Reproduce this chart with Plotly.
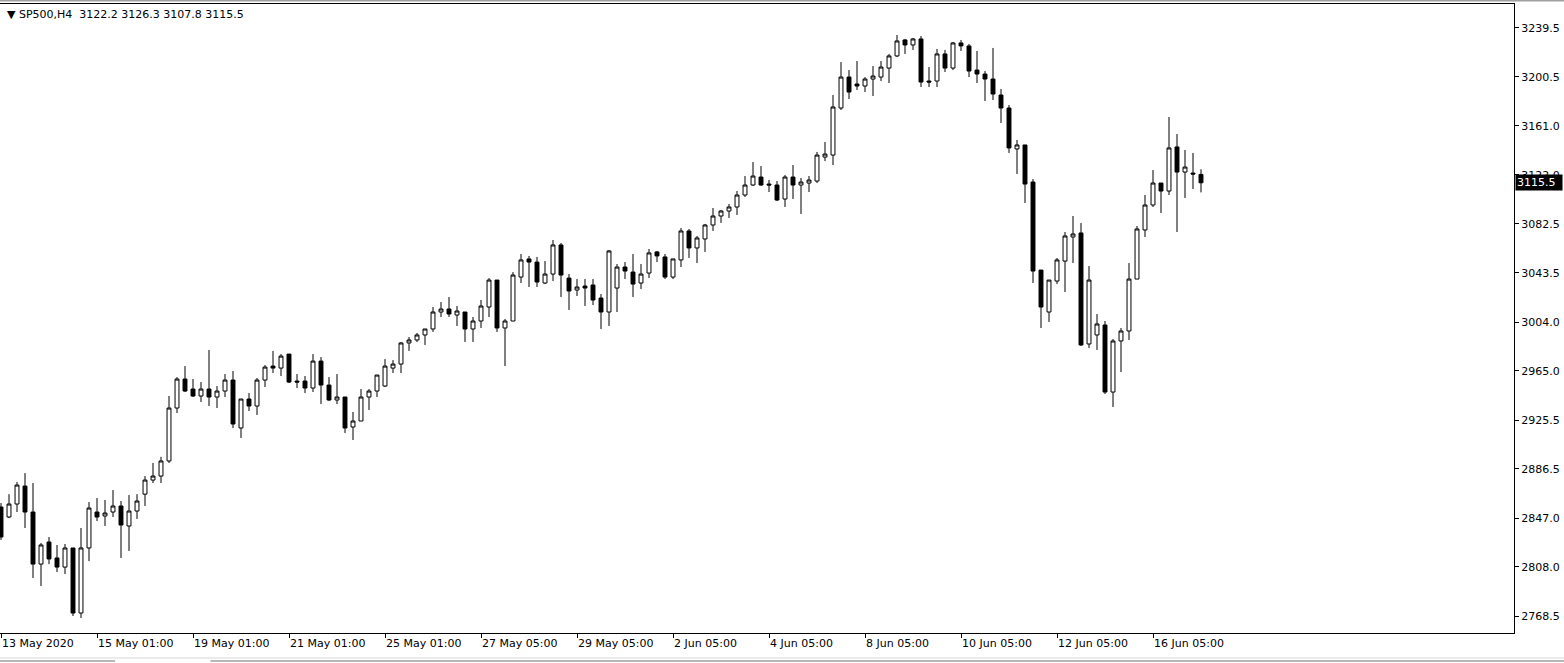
import plotly.graph_objects as go

# ---- data (SP500, H4) ----
open_ = [2855.8,2847.8,2858.2,2872.6,2851.8,2810.1,2827.8,2815.0,2807.7,2823.0,
         2770.9,2823.0,2851.8,2848.6,2851.8,2856.6,2840.6,2852.6,2866.1,2877.4,
         2880.6,2892.7,2935.1,2958.3,2950.3,2944.7,2950.3,2943.9,2948.7,2957.5,
         2919.1,2942.3,2936.7,2957.5,2968.7,2967.1,2978.3,2956.7,2956.7,2951.1,
         2972.7,2953.5,2941.5,2943.9,2919.9,2924.7,2943.9,2948.7,2952.7,2967.1,
         2970.3,2987.2,2989.6,2993.6,2998.4,3012.0,3014.4,3009.6,3012.0,2998.4,
         3004.8,3016.0,3037.6,2999.2,3004.8,3040.0,3054.5,3052.0,3035.2,3042.4,
         3065.7,3039.2,3029.6,3032.8,3033.6,3023.2,3012.0,3031.2,3048.0,3044.0,
         3035.2,3043.2,3060.1,3056.1,3040.0,3053.7,3076.9,3063.3,3070.5,3081.7,
         3088.9,3092.9,3096.1,3105.7,3113.7,3120.1,3114.5,3113.7,3102.5,3120.1,
         3113.7,3115.3,3116.9,3136.1,3137.7,3175.4,3200.2,3194.6,3193.0,3198.6,
         3200.2,3207.4,3217.1,3229.9,3225.9,3230.7,3197.0,3197.0,3218.7,3207.4,
         3227.5,3225.1,3205.8,3202.6,3198.6,3185.8,3175.4,3142.6,3145.8,3116.1,
         3045.6,3012.0,3036.8,3052.8,3072.1,3075.3,2986.4,2993.6,3001.6,2947.9,
         2988.8,2996.8,3038.4,3077.7,3097.7,3115.3,3108.9,3144.2,3124.1,3123.3,
         3122.2]
high = [2859.0,2866.1,2875.8,2883.0,2875.0,2827.0,2831.8,2825.4,2826.2,2823.0,
        2839.0,2859.8,2863.0,2861.4,2869.4,2860.6,2865.4,2866.1,2880.6,2891.1,
        2896.0,2944.7,2959.9,2968.7,2958.3,2955.9,2981.6,2952.7,2962.3,2964.7,
        2942.3,2947.1,2959.1,2969.5,2980.8,2978.3,2978.3,2962.3,2960.7,2978.3,
        2975.9,2959.9,2962.3,2943.9,2931.9,2950.3,2950.3,2961.5,2974.3,2973.5,
        2988.0,2992.0,2995.2,2998.4,3016.0,3020.0,3024.0,3016.8,3012.0,3008.0,
        3021.6,3039.2,3037.6,3006.4,3044.0,3058.5,3056.9,3056.1,3052.8,3069.7,
        3067.3,3042.4,3038.4,3038.4,3038.4,3026.4,3061.7,3050.4,3052.0,3058.5,
        3050.4,3062.5,3060.9,3058.5,3054.5,3079.3,3078.5,3072.9,3082.5,3095.3,
        3093.7,3098.5,3108.9,3120.9,3132.1,3128.9,3117.7,3116.9,3121.7,3129.7,
        3119.3,3120.9,3140.2,3148.2,3185.8,3212.2,3205.8,3213.0,3200.2,3209.0,
        3213.0,3218.7,3233.9,3230.7,3231.5,3233.1,3208.2,3222.7,3221.9,3228.3,
        3229.9,3226.7,3221.1,3205.0,3223.5,3190.6,3177.8,3149.8,3145.8,3118.5,
        3045.6,3037.6,3055.3,3076.1,3088.9,3083.3,3048.8,3010.4,3004.8,2990.4,
        2999.2,3051.2,3080.9,3105.7,3125.7,3115.3,3168.2,3154.6,3141.8,3139.4,
        3126.3]
low = [2829.4,2847.0,2851.8,2839.0,2798.9,2792.5,2810.1,2803.7,2802.1,2768.5,
       2766.9,2812.5,2844.6,2840.6,2847.8,2815.0,2820.6,2846.2,2856.6,2875.0,
       2875.0,2891.1,2931.1,2947.9,2943.9,2939.9,2936.7,2935.1,2943.9,2919.1,
       2911.1,2932.7,2929.5,2951.9,2963.1,2960.7,2955.1,2951.1,2947.1,2947.9,
       2938.3,2940.7,2938.3,2915.1,2909.5,2924.7,2933.5,2943.9,2951.9,2963.1,
       2963.1,2980.8,2988.0,2985.6,2996.0,3008.0,3008.0,3000.8,2988.0,2988.0,
       2999.2,3008.0,2996.0,2968.7,3004.8,3035.2,3032.0,3032.0,3034.4,3036.8,
       3024.0,3013.6,3024.8,3016.8,3017.6,2998.4,3000.8,3012.0,3038.4,3024.0,
       3030.4,3039.2,3052.0,3038.4,3038.4,3048.0,3055.3,3051.2,3060.1,3076.9,
       3083.3,3087.3,3089.7,3104.1,3112.9,3113.1,3108.1,3100.9,3096.1,3102.5,
       3090.5,3108.1,3115.3,3132.9,3129.7,3173.8,3182.6,3189.8,3188.2,3185.0,
       3197.0,3195.4,3216.2,3218.7,3221.9,3192.2,3192.2,3192.2,3204.2,3205.8,
       3221.1,3200.2,3195.4,3181.0,3181.8,3163.4,3139.4,3122.5,3099.3,3035.2,
       2999.2,3004.0,3034.4,3028.0,3051.2,2984.8,2983.2,2981.6,2946.3,2935.9,
       2963.9,2989.6,3038.4,3072.1,3096.1,3091.3,3105.7,3076.1,3103.3,3110.5,
       3107.8]
close = [2831.8,2858.2,2873.4,2851.8,2810.1,2825.4,2814.2,2807.7,2823.0,2770.9,
         2823.0,2855.0,2847.8,2851.0,2856.6,2841.4,2852.6,2860.6,2877.4,2880.6,
         2892.7,2935.1,2958.3,2948.7,2944.7,2950.3,2943.9,2948.7,2957.5,2922.3,
         2942.3,2936.7,2957.5,2967.9,2967.1,2976.7,2955.9,2955.9,2951.1,2972.7,
         2953.5,2941.5,2943.9,2919.1,2924.7,2943.9,2948.7,2961.5,2968.7,2970.3,
         2987.2,2989.6,2993.6,2998.4,3012.0,3014.4,3010.4,3012.8,2998.4,3004.8,
         3016.8,3037.6,2999.2,3004.8,3041.6,3053.7,3052.0,3036.0,3042.4,3065.7,
         3041.6,3028.8,3032.0,3031.2,3021.6,3012.0,3060.9,3048.0,3044.8,3034.4,
         3042.4,3059.3,3056.9,3040.0,3054.5,3076.9,3063.3,3071.3,3081.7,3088.9,
         3092.9,3096.1,3105.7,3113.7,3120.9,3113.7,3113.7,3101.7,3120.1,3113.7,
         3116.1,3117.7,3137.7,3138.5,3176.2,3200.2,3188.2,3193.0,3198.6,3201.0,
         3208.2,3217.1,3229.1,3225.9,3230.7,3196.2,3196.2,3218.7,3207.4,3227.5,
         3225.1,3205.0,3202.6,3198.6,3186.6,3175.4,3143.4,3145.8,3114.5,3044.8,
         3016.0,3037.6,3053.7,3072.9,3074.5,2985.6,3037.6,3002.4,2947.9,2988.8,
         2996.8,3038.4,3078.5,3097.7,3115.3,3108.9,3143.4,3124.1,3128.1,3122.5,
         3115.5]

time_labels = ["13 May 2020", "15 May 01:00", "19 May 01:00", "21 May 01:00",
               "25 May 01:00", "27 May 05:00", "29 May 05:00", "2 Jun 05:00",
               "4 Jun 05:00", "8 Jun 05:00", "10 Jun 05:00", "12 Jun 05:00",
               "16 Jun 05:00"]
label_step = 12  # bars between time labels
price_ticks = [3239.5, 3200.5, 3161.0, 3122.0, 3082.5, 3043.5, 3004.0,
               2965.0, 2925.5, 2886.5, 2847.0, 2808.0, 2768.5]
price_tick_text = [f"{v:.1f}" for v in price_ticks]
symbol = "SP500,H4"
last_price = close[-1]

bar_index = list(range(len(close)))
tick_pos = [i * label_step for i in range(len(time_labels))]

FONT = "DejaVu Sans"

fig = go.Figure()
fig.add_trace(go.Candlestick(
    x=bar_index, open=open_, high=high, low=low, close=close,
    increasing=dict(line=dict(color="black", width=1), fillcolor="white"),
    decreasing=dict(line=dict(color="black", width=1), fillcolor="black"),
    whiskerwidth=0, hoverinfo="skip", showlegend=False,
))

fig.update_layout(
    width=1564, height=663,
    margin=dict(l=0, r=50, t=4, b=30, pad=0),
    paper_bgcolor="white", plot_bgcolor="white",
    font=dict(family=FONT, size=11, color="black"),
    boxgap=0.3,
    showlegend=False,
    xaxis=dict(
        range=[-0.125, 189.125], rangeslider=dict(visible=False),
        tickmode="array", tickvals=tick_pos, ticktext=time_labels,
        ticks="outside", ticklen=4, tickcolor="black",
        ticklabelposition="outside right",
        showgrid=False, zeroline=False,
        showline=True, linecolor="black", linewidth=1, mirror=True,
        tickfont=dict(family=FONT, size=11, color="black"),
    ),
    yaxis=dict(
        range=[2754.9, 3258.7], side="right",
        tickmode="array", tickvals=price_ticks, ticktext=price_tick_text,
        ticks="outside", ticklen=4, tickcolor="black",
        showgrid=False, zeroline=False,
        showline=True, linecolor="black", linewidth=1, mirror=True,
        tickfont=dict(family=FONT, size=11, color="black"),
    ),
)

header = (f"\u25bc\u00a0{symbol}\u00a0\u00a0" +
          " ".join(f"{v:.1f}" for v in (open_[-1], high[-1], low[-1], close[-1])))
fig.add_annotation(
    text=header, xref="paper", yref="paper", x=0.003, y=0.983,
    xanchor="left", yanchor="middle", showarrow=False,
    font=dict(family=FONT, size=11, color="black"),
)

fig.add_annotation(
    text=f"{last_price:.1f}", xref="paper", yref="y", x=1, y=last_price,
    xanchor="left", yanchor="middle", showarrow=False, xshift=1,
    bgcolor="black", borderpad=1, width=44, align="left",
    font=dict(family=FONT, size=11, color="white"),
)

# window chrome lines (top edge, bottom tab bar)
fig.add_shape(type="line", xref="paper", yref="paper", x0=0, x1=1.034,
              y0=1.0056, y1=1.0056, line=dict(color="#a0a0a0", width=2))
fig.add_shape(type="line", xref="paper", yref="paper", x0=0, x1=0.076,
              y0=-0.0445, y1=-0.0445, line=dict(color="#707070", width=1))
fig.add_shape(type="line", xref="paper", yref="paper", x0=0.139, x1=1.034,
              y0=-0.0445, y1=-0.0445, line=dict(color="#707070", width=1))
fig.add_shape(type="line", xref="paper", yref="paper", x0=0, x1=1.034,
              y0=-0.0397, y1=-0.0397, line=dict(color="#d8d8d8", width=1))

fig.write_html(
    "out.html",
    config={"displayModeBar": False},
    post_script="document.body.style.margin='0';document.body.style.overflow='hidden';",
)
